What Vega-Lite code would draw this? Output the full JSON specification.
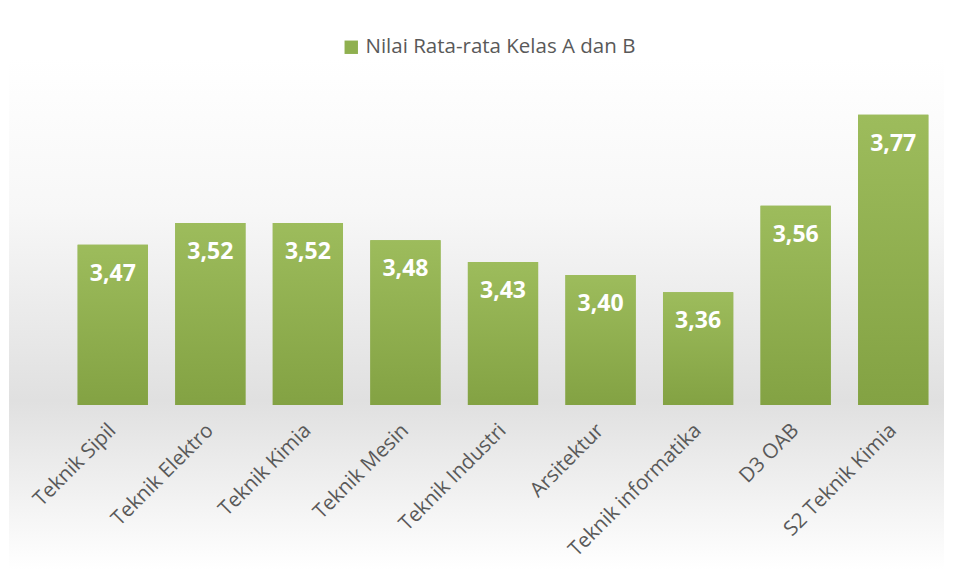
{
  "$schema": "https://vega.github.io/schema/vega-lite/v6.json",
  "autosize": "none",
  "width": 878,
  "height": 325,
  "padding": {"left": 64, "top": 80, "right": 15, "bottom": 175},
  "background": "#ffffff",
  "config": {
    "locale": {"number": {"decimal": ",", "thousands": ".", "grouping": [3], "currency": ["", ""]}},
    "view": {"stroke": null},
    "font": "Open Sans"
  },
  "data": {"values": [
    {"prodi": "Teknik Sipil", "nilai": 3.47, "seri": "Nilai Rata-rata Kelas A dan B"},
    {"prodi": "Teknik Elektro", "nilai": 3.52, "seri": "Nilai Rata-rata Kelas A dan B"},
    {"prodi": "Teknik Kimia", "nilai": 3.52, "seri": "Nilai Rata-rata Kelas A dan B"},
    {"prodi": "Teknik Mesin", "nilai": 3.48, "seri": "Nilai Rata-rata Kelas A dan B"},
    {"prodi": "Teknik Industri", "nilai": 3.43, "seri": "Nilai Rata-rata Kelas A dan B"},
    {"prodi": "Arsitektur", "nilai": 3.40, "seri": "Nilai Rata-rata Kelas A dan B"},
    {"prodi": "Teknik informatika", "nilai": 3.36, "seri": "Nilai Rata-rata Kelas A dan B"},
    {"prodi": "D3 OAB", "nilai": 3.56, "seri": "Nilai Rata-rata Kelas A dan B"},
    {"prodi": "S2 Teknik Kimia", "nilai": 3.77, "seri": "Nilai Rata-rata Kelas A dan B"}
  ]},
  "layer": [
    {
      "mark": {"type": "rect", "clip": false, "fill": {"gradient": "linear", "x1": 0, "y1": 0, "x2": 0, "y2": 1, "stops": [{"offset": 0, "color": "#ffffff"}, {"offset": 0.3, "color": "#f7f7f7"}, {"offset": 0.67, "color": "#e0e0e0"}, {"offset": 1, "color": "#ffffff"}]}},
      "encoding": {
        "x": {"value": -55},
        "x2": {"value": 880},
        "y": {"datum": 3.9, "type": "quantitative", "scale": {"domain": [3.1, 3.85], "nice": false, "zero": false}, "axis": null},
        "y2": {"datum": 2.72}
      }
    },
    {
      "mark": {"type": "bar"},
      "encoding": {
        "x": {
          "field": "prodi", "type": "nominal", "sort": null,
          "scale": {"paddingInner": 0.28, "paddingOuter": 0.14},
          "axis": {"title": null, "zindex": 2, "labelAngle": -45, "labelAlign": "right", "labelBaseline": "middle", "labelFontSize": 20.5, "labelColor": "#595959", "labelFont": "Open Sans", "domain": false, "ticks": false, "labelPadding": 22, "labelLimit": 400}
        },
        "y": {"field": "nilai", "type": "quantitative"},
        "y2": {"datum": 3.1},
        "color": {"field": "seri", "type": "nominal", "scale": {"range": ["#8fb04f"]}, "legend": {"title": null, "orient": "none", "legendX": 277, "legendY": -43, "symbolType": "square", "symbolSize": 180, "labelFontSize": 20.5, "labelColor": "#595959", "labelFont": "Open Sans", "labelLimit": 500}}
      }
    },
    {
      "mark": {"type": "bar", "fill": {"gradient": "linear", "x1": 0, "y1": 0, "x2": 0, "y2": 1, "stops": [{"offset": 0, "color": "#9dbc5c"}, {"offset": 1, "color": "#83a243"}]}},
      "encoding": {
        "x": {"field": "prodi", "type": "nominal", "sort": null},
        "y": {"field": "nilai", "type": "quantitative"},
        "y2": {"datum": 3.1}
      }
    },
    {
      "mark": {"type": "text", "color": "#ffffff", "fontSize": 23, "fontWeight": "bold", "font": "Open Sans", "baseline": "top", "dy": 18},
      "encoding": {
        "x": {"field": "prodi", "type": "nominal", "sort": null},
        "y": {"field": "nilai", "type": "quantitative"},
        "text": {"field": "nilai", "type": "quantitative", "format": ".2f"}
      }
    }
  ]
}
